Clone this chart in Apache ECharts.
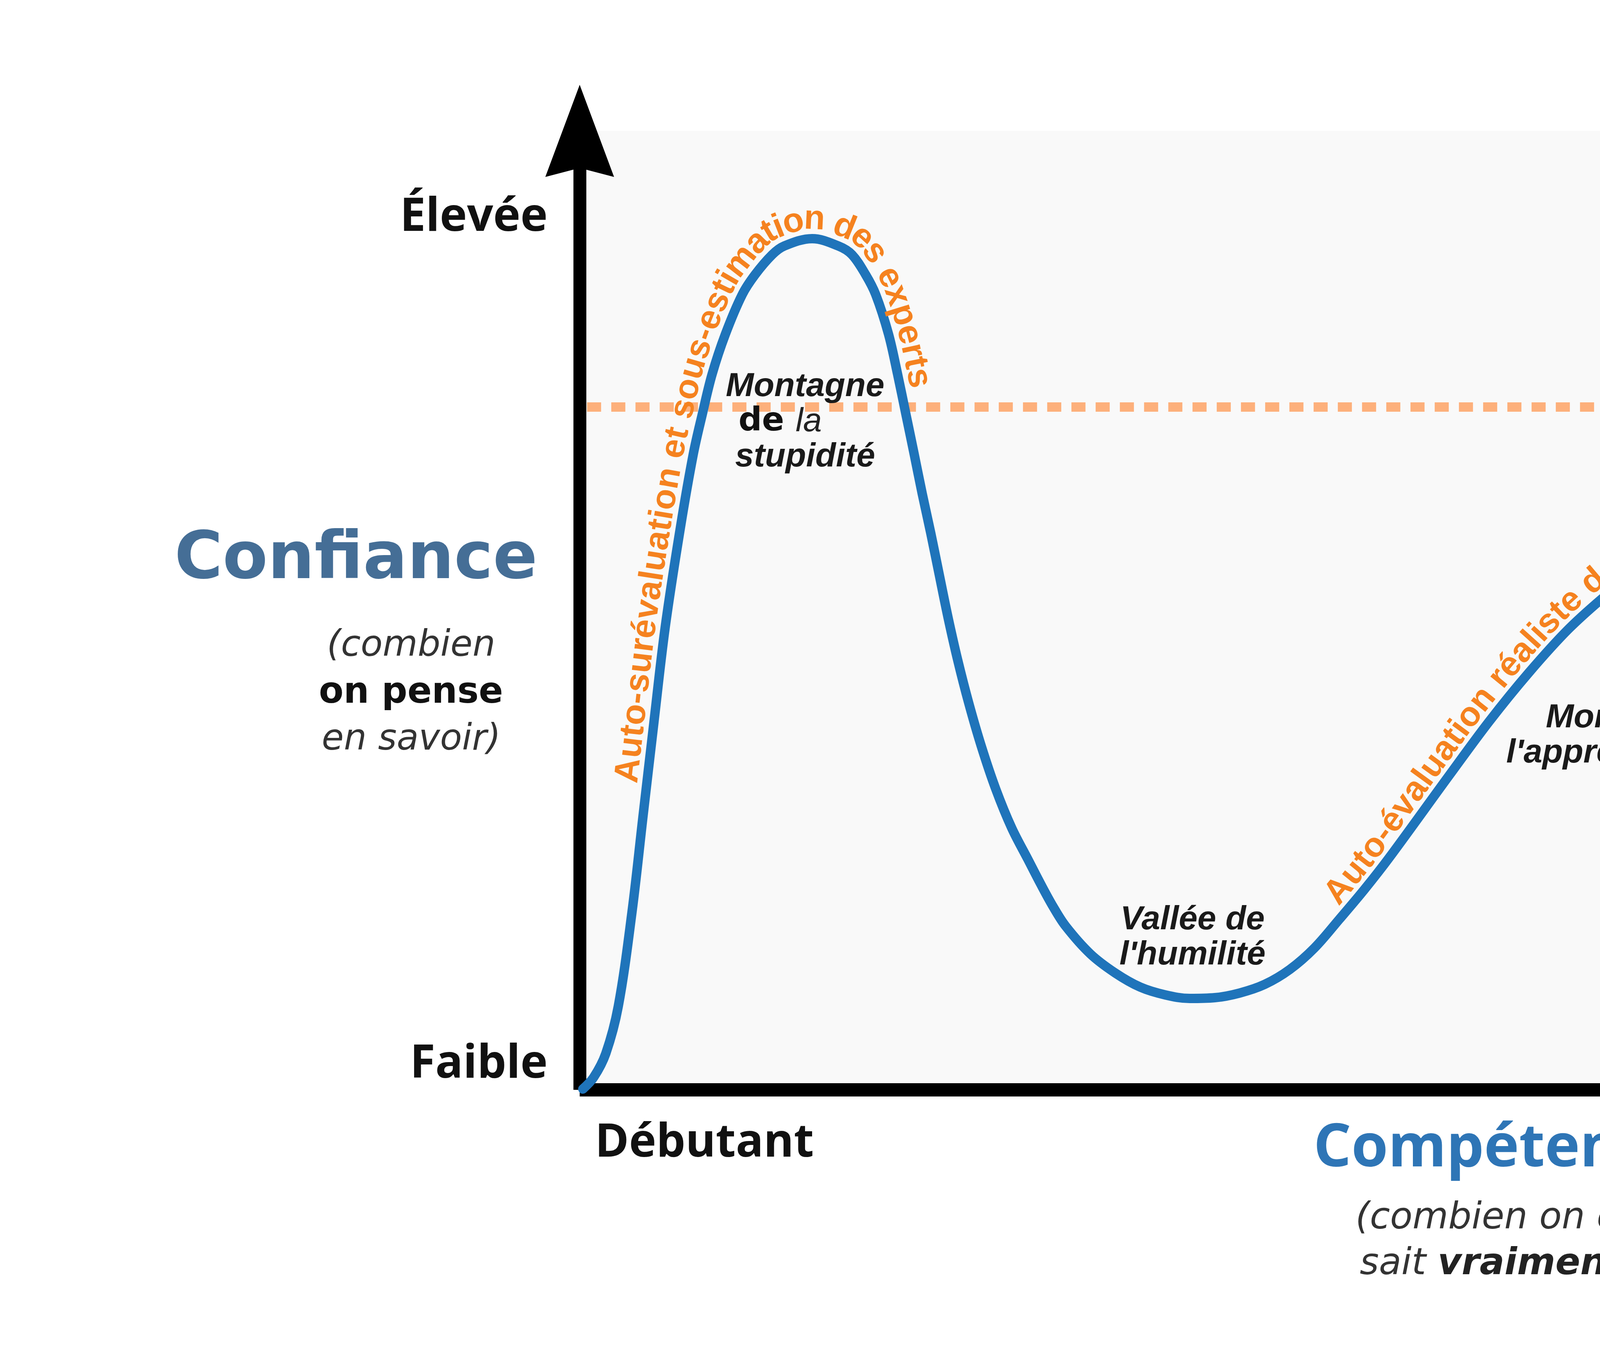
<!DOCTYPE html>
<html><head><meta charset="utf-8">
<script src="https://cdn.jsdelivr.net/npm/echarts@6/dist/echarts.min.js"></script>
<style>html,body{margin:0;padding:0;background:#fff}#c{width:6912px;height:3456px}</style>
</head><body><div id="c"></div>
<script>
// ---- data (competence 0-100, confidence 0-100) ----
const competence = [0.17,0.76,1.42,2.10,2.85,3.44,4.04,4.65,5.48,6.18,6.67,7.20,7.92,8.84,9.54,10.47,11.11,12.64,14.09,14.81,15.55,16.10,16.80,17.29,17.74,18.19,18.63,19.10,19.55,20.03,20.56,21.16,21.84,22.63,23.50,24.39,25.07,25.75,26.43,27.77,29.13,30.49,31.85,33.18,34.54,35.90,37.26,38.62,39.96,41.32,42.68,44.04,47.29,49.46,51.62,53.79,55.96,58.13,60.29,62.46,64.65,66.81,68.98,70.45,73.80,77.33,84.38,89.40];
const confidence = [0.08,1.30,3.79,8.72,18.62,28.47,38.37,48.23,58.66,66.31,70.47,74.62,78.78,82.93,85.01,87.09,87.98,88.76,87.98,87.09,85.01,82.93,78.78,74.62,70.47,66.31,62.16,58.00,53.77,49.29,44.81,40.33,35.85,31.36,27.29,23.99,21.47,19.10,17.07,14.18,12.18,10.71,9.90,9.53,9.61,10.10,11.00,12.55,14.79,17.80,20.90,24.24,32.79,38.41,43.50,48.07,51.81,55.11,58.04,60.53,62.61,64.28,65.38,65.91,66.93,67.62,68.27,68.47];
const expertLevelX = [0.4, 89.4];
const expertLevelY = [71.2, 71.2];
const xTickLabels = {0: 'Débutant', 90: 'Expert'};
const yTickLabels = {0: 'Faible', 90: 'Élevée'};
const annotationX = [12.26, 33.33, 57.06, 80.4];
const annotationY = [69.65, 15.89, 36.95, 61.26];
const annotationText = [
  '{bi|Montagne}\n{de|de }{it|la}\n{bi|stupidité}',
  '{bi|Vallée de}\n{bi|l\'humilité}',
  '{bi|Montée de}\n{bi|l\'apprentissage}',
  '{bi|Plateau de}\n{bi|la consolidation}'
];
const arcTextContent = ['Auto-surévaluation et sous-estimation des experts', 'Auto-évaluation réaliste de la compétence'];
const arcTextFrom = [3.63, 41.6];
const arcTextTo = [17.5, 68.6];

// ---- styles ----
const ORANGE = '#f5821f';
const annFont = {fontFamily: 'Liberation Sans', fontWeight: 'bold', fontStyle: 'italic', fontSize: 86, color: '#1a1a1a', lineHeight: 90};
const tickFont = {fontFamily: 'Open Sans', fontWeight: 'bold', fontSize: 118, color: '#111'};
const subFont = {fontFamily: 'DejaVu Sans', fontStyle: 'italic', fontWeight: 'normal', fontSize: 92, color: '#333', lineHeight: 120};

const chart = echarts.init(document.getElementById('c'), null, {renderer: 'canvas'});

const option = {
  backgroundColor: '#ffffff',
  animation: false,
  title: {
    text: 'Source : Wikipédia', right: 222, top: 3281, padding: 0,
    textStyle: {fontFamily: 'Open Sans', fontWeight: 'normal', fontSize: 77, color: '#111'}
  },
  grid: {
    left: 1484, right: 721, top: 335, bottom: 666,
    show: true, backgroundColor: '#f9f9f9', borderWidth: 0,
    containLabel: false, outerBoundsMode: 'none'
  },
  xAxis: {
    type: 'value', min: 0, max: 100, interval: 90,
    splitLine: {show: false}, axisTick: {show: false},
    axisLine: {
      show: true, onZero: false,
      lineStyle: {color: '#000', width: 34, cap: 'butt'},
      symbol: ['none', 'path://M88,0 L176,198 L88,176 L0,198 Z'],
      symbolSize: [176, 198]
    },
    axisLabel: {
      margin: 78, alignMinLabel: 'left',
      formatter: v => v === 0 ? '{lo|' + xTickLabels[0] + '}' : (v === 90 ? '{hi|' + xTickLabels[90] + '}' : ''),
      rich: {
        lo: Object.assign({}, tickFont, {padding: [0, 0, 0, 39]}),
        hi: Object.assign({}, tickFont, {padding: [0, 0, 0, 52]})
      }
    },
    name: '{t|Compétence}\n{s|(combien on en}\n{s|sait }{sb|vraiment}{s|)}',
    nameLocation: 'middle', nameGap: 33, nameMoveOverlap: false,
    nameTextStyle: {
      rich: {
        t: {fontFamily: 'Open Sans', fontWeight: 'bold', fontSize: 152, color: '#2e75b6', lineHeight: 239},
        s: {fontFamily: 'DejaVu Sans', fontStyle: 'italic', fontWeight: 'normal', fontSize: 94, color: '#333', lineHeight: 117},
        sb: {fontFamily: 'DejaVu Sans', fontStyle: 'italic', fontWeight: 'bold', fontSize: 94, color: '#222', lineHeight: 117}
      }
    }
  },
  yAxis: {
    type: 'value', min: 0, max: 100, interval: 90,
    splitLine: {show: false}, axisTick: {show: false},
    axisLine: {
      show: true,
      lineStyle: {color: '#000', width: 33, cap: 'butt'},
      symbol: ['none', 'path://M88,0 L176,236 L88,213 L0,236 Z'],
      symbolSize: [176, 236]
    },
    axisLabel: {
      margin: 82,
      formatter: v => v === 0 ? '{lo|' + yTickLabels[0] + '}' : (v === 90 ? '{hi|' + yTickLabels[90] + '}' : ''),
      rich: {
        lo: Object.assign({}, tickFont, {padding: [0, 0, 130, 0]}),
        hi: Object.assign({}, tickFont, {padding: [0, 0, 46, 0]})
      }
    },
    name: '{c|Confiance}\n{s1|(combien}\n{s2|on pense}\n{s3|en savoir)}',
    nameLocation: 'middle', nameRotate: 0, nameGap: 108, nameMoveOverlap: false,
    nameTextStyle: {
      padding: [107, 0, 0, 0],
      rich: {
        c: {fontFamily: 'DejaVu Sans', fontWeight: 'bold', fontSize: 168, color: '#456e96', lineHeight: 318},
        s1: Object.assign({}, subFont, {padding: [0, 108, 0, 0]}),
        s2: Object.assign({}, subFont, {fontStyle: 'normal', fontWeight: 'bold', color: '#111', padding: [0, 88, 0, 0]}),
        s3: Object.assign({}, subFont, {padding: [0, 94, 0, 0]})
      }
    }
  },
  series: [
    {
      name: 'Niveau réel', type: 'line', silent: true, z: 1,
      data: expertLevelX.map((x, i) => [x, expertLevelY[i]]),
      symbol: 'none',
      lineStyle: {color: '#fdb07b', width: 24, type: [36, 26], cap: 'butt'}
    },
    {
      name: 'Confiance', type: 'line', silent: true, z: 3,
      data: competence.map((x, i) => [x, confidence[i]]),
      smooth: 0.35, symbol: 'none',
      lineStyle: {color: '#1f74ba', width: 24, cap: 'round', join: 'round'},
      markPoint: {
        silent: true, symbol: 'circle', symbolSize: 0,
        itemStyle: {color: 'rgba(0,0,0,0)'},
        label: {
          show: true, position: 'inside', align: 'center', verticalAlign: 'middle',
          rich: {
            bi: annFont,
            de: {fontFamily: 'DejaVu Sans', fontWeight: 'bold', fontStyle: 'normal', fontSize: 84, color: '#111', lineHeight: 90},
            it: {fontFamily: 'Liberation Sans', fontWeight: 'normal', fontStyle: 'italic', fontSize: 86, color: '#222', lineHeight: 90, padding: [0, 128, 0, 0]}
          }
        },
        data: annotationX.map((x, i) => ({
          coord: [x, annotationY[i]],
          label: {formatter: () => annotationText[i]}
        }))
      }
    }
  ]
};
chart.setOption(option);

// ---- orange texts following the curve (positions derived through the axes) ----
function arcGraphics() {
  const pts = competence.map((x, i) => chart.convertToPixel({xAxisIndex: 0, yAxisIndex: 0}, [x, confidence[i]]));
  const n = pts.length, dense = [];
  for (let i = 0; i < n - 1; i++) {
    const p0 = pts[Math.max(i - 1, 0)], p1 = pts[i], p2 = pts[i + 1], p3 = pts[Math.min(i + 2, n - 1)];
    for (let k = 0; k < 30; k++) {
      const t = k / 30, t2 = t * t, t3 = t2 * t;
      const f = j => 0.5 * (2 * p1[j] + (-p0[j] + p2[j]) * t + (2 * p0[j] - 5 * p1[j] + 4 * p2[j] - p3[j]) * t2 + (-p0[j] + 3 * p1[j] - 3 * p2[j] + p3[j]) * t3);
      dense.push([f(0), f(1)]);
    }
  }
  dense.push(pts[n - 1]);
  const ctx = document.createElement('canvas').getContext('2d');
  const fontSize = 88, offset = [49, 47];
  const font = 'bold ' + fontSize + 'px "Liberation Sans"';
  ctx.font = font;
  const els = [];
  arcTextContent.forEach((txt, ti) => {
    const xa = chart.convertToPixel({xAxisIndex: 0}, arcTextFrom[ti]);
    const xb = chart.convertToPixel({xAxisIndex: 0}, arcTextTo[ti]);
    const seg = dense.filter(p => p[0] >= xa && p[0] <= xb);
    const off = seg.map((p, i) => {
      const q0 = seg[Math.max(i - 1, 0)], q1 = seg[Math.min(i + 1, seg.length - 1)];
      let dx = q1[0] - q0[0], dy = q1[1] - q0[1];
      const l = Math.hypot(dx, dy) || 1; dx /= l; dy /= l;
      return [p[0] + offset[ti] * dy, p[1] - offset[ti] * dx];
    });
    const cum = [0];
    for (let i = 1; i < off.length; i++) cum.push(cum[i - 1] + Math.hypot(off[i][0] - off[i - 1][0], off[i][1] - off[i - 1][1]));
    const L = cum[cum.length - 1];
    const chars = Array.from(txt);
    const widths = chars.map(ch => ctx.measureText(ch).width);
    const W = widths.reduce((a, b) => a + b, 0);
    const k = L / W;
    let acc = 0;
    chars.forEach((ch, ci) => {
      const s = (acc + widths[ci] / 2) * k;
      acc += widths[ci];
      let j = 0;
      while (j < cum.length - 2 && cum[j + 1] < s) j++;
      const segLen = (cum[j + 1] - cum[j]) || 1;
      const u = Math.min(Math.max((s - cum[j]) / segLen, 0), 1);
      const x = off[j][0] + (off[j + 1][0] - off[j][0]) * u;
      const y = off[j][1] + (off[j + 1][1] - off[j][1]) * u;
      const a0 = off[Math.max(j - 2, 0)], a1 = off[Math.min(j + 3, off.length - 1)];
      const ang = Math.atan2(a1[1] - a0[1], a1[0] - a0[0]);
      if (ch === ' ') return;
      els.push({
        type: 'text', x: x, y: y, rotation: -ang, silent: true, z: 10,
        style: {text: ch, font: font, fill: ORANGE, align: 'center', verticalAlign: 'middle', textAlign: 'center', textVerticalAlign: 'middle'}
      });
    });
  });
  return els;
}
chart.setOption({graphic: {elements: arcGraphics()}});
</script>
</body></html>
